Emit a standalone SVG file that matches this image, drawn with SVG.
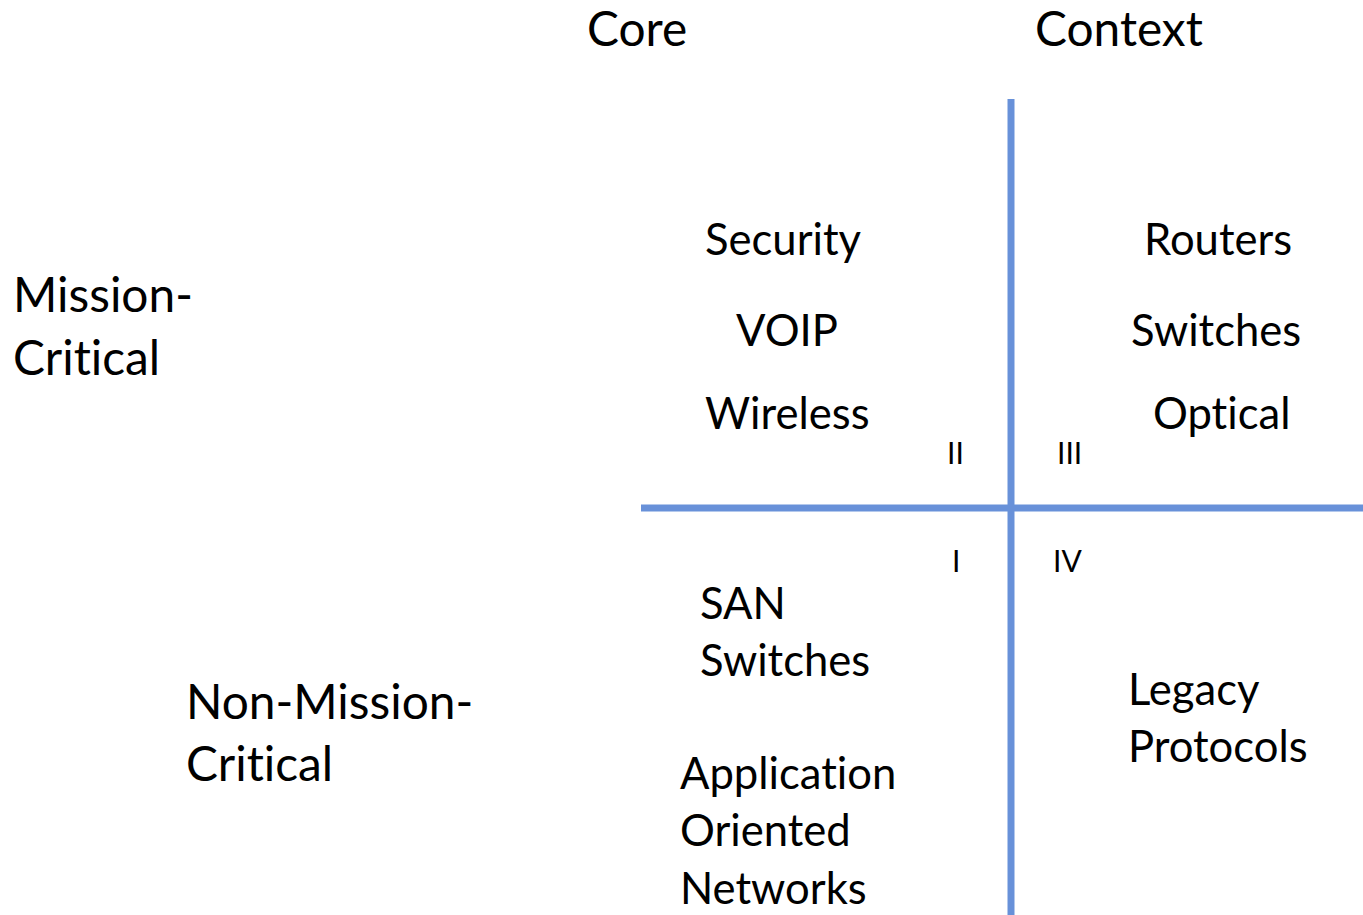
<svg xmlns="http://www.w3.org/2000/svg" width="1363" height="915" viewBox="0 0 1363 915">
<style>
  text { font-family: Lato, "Open Sans", "Liberation Sans", sans-serif; fill: #000; font-variant-ligatures: none; font-feature-settings: "liga" 0; }
  .big { font-size: 47.8px; }
  .mid { font-size: 43.6px; }
  .num { font-size: 30px; }
  .axis { stroke: #6891D9; stroke-width: 7; fill: none; }
</style>
<rect width="1363" height="915" fill="#fff"/>
<g id="connectors">
  <line class="axis" x1="1011" y1="99" x2="1011" y2="915"/>
  <line class="axis" x1="641" y1="508" x2="1363" y2="508"/>
</g>
<g id="header-core"><text class="big" x="587" y="46">Core</text></g>
<g id="header-context"><text class="big" x="1035" y="46">Context</text></g>
<g id="row-mission-critical"><text class="big" x="13" y="312">Mission-</text><text class="big" x="13" y="375">Critical</text></g>
<g id="row-non-mission-critical"><text class="big" x="186" y="719">Non-Mission-</text><text class="big" x="186" y="781">Critical</text></g>
<g id="q2-items">
  <text class="mid" x="705" y="255">Security</text>
  <text class="mid" x="736" y="346">VOIP</text>
  <text class="mid" x="705" y="429">Wireless</text>
</g>
<g id="q3-items">
  <text class="mid" x="1144" y="255">Routers</text>
  <text class="mid" x="1131" y="346">Switches</text>
  <text class="mid" x="1153" y="429">Optical</text>
</g>
<g id="q1-items">
  <text class="mid" x="700" y="619">SAN</text>
  <text class="mid" x="700" y="676">Switches</text>
  <text class="mid" x="680" y="789">Application</text>
  <text class="mid" x="680" y="846">Oriented</text>
  <text class="mid" x="680" y="904">Networks</text>
</g>
<g id="q4-items">
  <text class="mid" x="1128" y="705">Legacy</text>
  <text class="mid" x="1128" y="762">Protocols</text>
</g>
<g id="label-II"><text class="num" x="947" y="464">II</text></g>
<g id="label-III"><text class="num" x="1057" y="464">III</text></g>
<g id="label-I"><text class="num" x="952" y="572">I</text></g>
<g id="label-IV"><text class="num" x="1053" y="572">IV</text></g>
</svg>
